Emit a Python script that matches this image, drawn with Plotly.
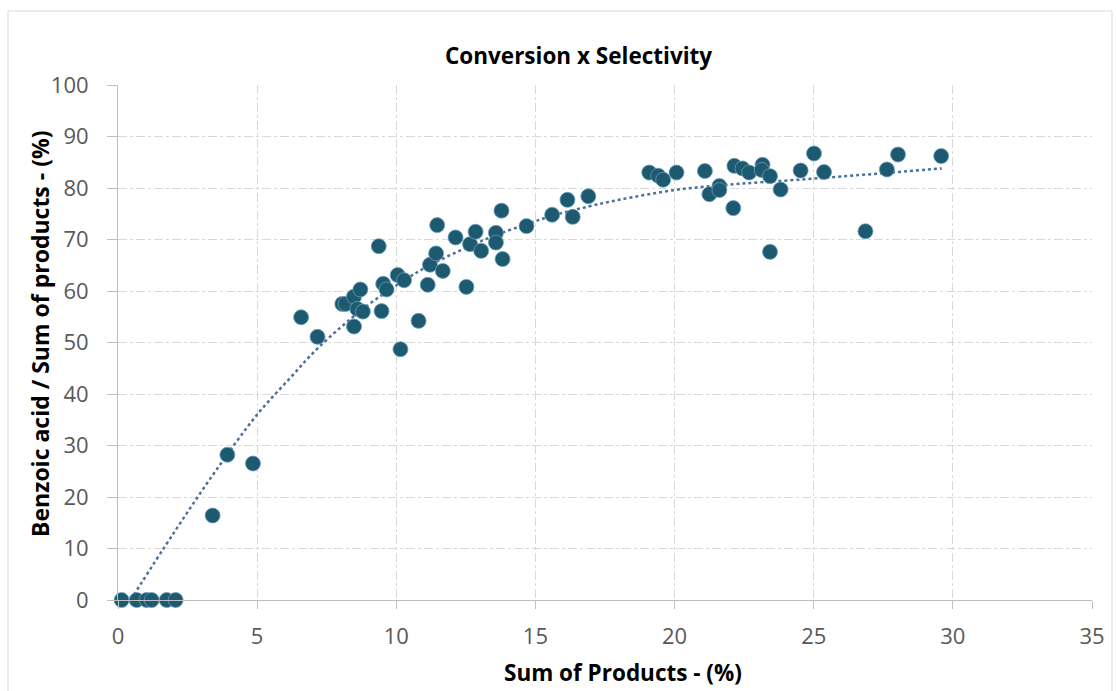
import plotly.graph_objects as go

# Sum of Products (%)
sum_products = [0.13, 0.67, 1.03, 1.21, 1.75, 2.07, 3.40, 3.93, 4.85,
                6.58, 7.17, 8.06, 8.18, 8.48, 8.71, 8.60, 8.80, 8.48,
                9.37, 9.53, 9.65, 9.47, 10.05, 10.15, 10.28, 10.80,
                11.13, 11.21, 11.43, 11.47, 11.67, 12.13, 12.52, 12.65,
                12.85, 13.05, 13.58, 13.58, 13.78, 13.82, 14.68, 15.60,
                16.15, 16.34, 16.90, 19.09, 19.41, 19.59, 20.07, 21.09,
                21.25, 21.61, 21.61, 22.11, 22.15, 22.44, 22.68, 23.16,
                23.13, 23.43, 23.43, 23.81, 24.53, 25.01, 25.37, 26.86,
                27.63, 28.03, 29.58]
# Benzoic acid / Sum of products (%)
selectivity = [0.0, 0.0, 0.0, 0.0, 0.0, 0.0, 16.4, 28.2, 26.5,
               54.9, 51.1, 57.5, 57.5, 58.9, 60.3, 56.5, 56.0, 53.1,
               68.7, 61.4, 60.3, 56.1, 63.1, 48.7, 62.1, 54.2,
               61.2, 65.1, 67.3, 72.8, 63.9, 70.4, 60.8, 69.1,
               71.5, 67.8, 71.3, 69.4, 75.6, 66.2, 72.6, 74.8,
               77.7, 74.4, 78.4, 83.0, 82.4, 81.6, 83.0, 83.3,
               78.8, 80.4, 79.6, 76.1, 84.3, 83.8, 83.0, 84.5,
               83.5, 82.3, 67.6, 79.7, 83.4, 86.7, 83.1, 71.6,
               83.6, 86.5, 86.2]

# trendline (dotted)
trend_x = [0.45, 2.0, 3.5, 5.0, 6.2, 7.2, 8.8, 10.2, 11.2, 12.6, 13.6,
           14.7, 15.6, 16.9, 18.0, 20.0, 21.6, 25.2, 29.6]
trend_y = [0.0, 13.0, 25.0, 36.0, 43.2, 49.0, 56.5, 61.8, 65.0, 68.6, 70.9,
           73.0, 74.6, 76.4, 77.7, 79.6, 80.5, 81.9, 83.8]

x_ticks = [0, 5, 10, 15, 20, 25, 30, 35]
y_ticks = [0, 10, 20, 30, 40, 50, 60, 70, 80, 90, 100]

FONT = "Open Sans"
GRID = "#d9d9d9"
AX = "#bfbfbf"

fig = go.Figure()
fig.add_trace(go.Scatter(
    x=trend_x, y=trend_y, mode="lines",
    line=dict(color="#4a7199", width=2.5, dash="dot", shape="spline", smoothing=1.0),
    hoverinfo="skip", showlegend=False))
fig.add_trace(go.Scatter(
    x=sum_products, y=selectivity, mode="markers",
    marker=dict(size=15, color="#1d5a6f", line=dict(color="#6a9dbb", width=0.8)),
    cliponaxis=False, showlegend=False))

fig.update_layout(
    width=1116, height=691,
    margin=dict(l=118, r=24, t=85, b=91),
    paper_bgcolor="white", plot_bgcolor="white",
    font=dict(family=FONT, color="#595959"),
    showlegend=False,
)
fig.update_xaxes(
    range=[0, 35], tickvals=x_ticks, ticktext=[str(v) for v in x_ticks],
    showgrid=True, gridcolor=GRID, griddash="dashdot", gridwidth=1,
    showline=True, linecolor=AX, linewidth=1,
    ticks="outside", ticklen=8, tickcolor=AX,
    tickfont=dict(size=22, family=FONT, color="#595959"),
    zeroline=False, ticklabelstandoff=9,
)
fig.update_yaxes(
    range=[0, 100], tickvals=y_ticks, ticktext=[str(v) for v in y_ticks],
    showgrid=True, gridcolor=GRID, griddash="dashdot", gridwidth=1,
    showline=True, linecolor=AX, linewidth=1,
    ticks="outside", ticklen=10, tickcolor=AX,
    tickfont=dict(size=22, family=FONT, color="#595959"),
    zeroline=False, ticklabelstandoff=14,
)

fig.add_annotation(text="<b>Conversion x Selectivity</b>", xref="paper", yref="paper",
                   x=(578 - 118) / 974, y=(600 - 55) / 515, xanchor="center", yanchor="middle",
                   showarrow=False, font=dict(size=22.5, family=FONT, color="#000000"))
fig.add_annotation(text="<b>Sum of Products - (%)</b>", xref="paper", yref="paper",
                   x=(623 - 118) / 974, y=(600 - 672) / 515, xanchor="center", yanchor="middle",
                   showarrow=False, font=dict(size=22.5, family=FONT, color="#000000"))
fig.add_annotation(text="<b>Benzoic acid / Sum of products - (%)</b>", xref="paper", yref="paper",
                   x=(40 - 118) / 974, y=(600 - 334) / 515, xanchor="center", yanchor="middle",
                   textangle=-90, showarrow=False,
                   font=dict(size=23, family=FONT, color="#000000"))

# chart-area border
fig.add_shape(type="rect", xref="paper", yref="paper",
              x0=(8 - 118) / 974, x1=(1112 - 118) / 974,
              y0=(600 - 700) / 515, y1=(600 - 11) / 515,
              line=dict(color="#d9d9d9", width=1), layer="below")

fig.write_html("out.html")
